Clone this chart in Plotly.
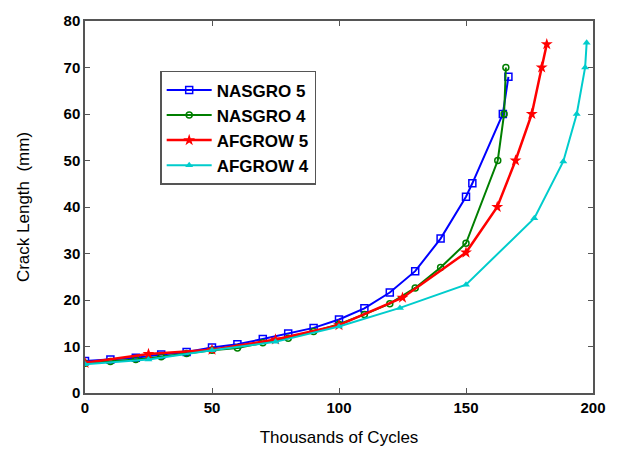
import plotly.graph_objects as go

# NASGRO 5
n5_x = [0, 10, 20, 30, 40, 50, 60, 70, 80, 90, 100, 110, 120, 130, 140, 150, 152.5, 164.5, 166.7]
n5_y = [6.9, 7.2, 7.6, 8.3, 8.8, 9.8, 10.5, 11.6, 12.8, 14.0, 15.8, 18.2, 21.6, 26.2, 33.2, 42.2, 45.1, 60.0, 68.0]
# NASGRO 4
n4_x = [0, 10, 20, 30, 40, 50, 60, 70, 80, 90, 100, 110, 120, 130, 140, 150, 162.5, 165.0, 165.7]
n4_y = [6.4, 6.8, 7.2, 7.8, 8.5, 9.2, 9.7, 10.8, 11.8, 13.2, 14.8, 16.9, 19.2, 22.6, 27.0, 32.2, 50.0, 60.0, 70.0]
# AFGROW 5
a5_x = [0, 25, 50, 75, 100, 125, 150, 162.3, 169.5, 175.9, 179.8, 181.8]
a5_y = [6.5, 8.4, 9.3, 11.5, 14.6, 20.5, 30.2, 40.0, 50.0, 60.0, 70.0, 75.0]
# AFGROW 4
a4_x = [0, 25, 50, 75, 100, 124, 150, 176.9, 188.3, 193.6, 196.9, 197.5]
a4_y = [6.2, 7.2, 9.2, 11.0, 14.3, 18.3, 23.3, 37.6, 49.8, 60.0, 70.0, 75.3]

x_ticks = [0, 50, 100, 150, 200]
y_ticks = [0, 10, 20, 30, 40, 50, 60, 70, 80]

fig = go.Figure()
fig.add_trace(go.Scatter(x=n5_x, y=n5_y, name="NASGRO 5", mode="lines+markers",
                         line=dict(color="#0000ff", width=2),
                         marker=dict(symbol="square-open", size=7, color="#0000ff", line=dict(width=1.5))))
fig.add_trace(go.Scatter(x=n4_x, y=n4_y, name="NASGRO 4", mode="lines+markers",
                         line=dict(color="#007f00", width=2),
                         marker=dict(symbol="circle-open", size=6, color="#007f00", line=dict(width=1.5))))
fig.add_trace(go.Scatter(x=a5_x, y=a5_y, name="AFGROW 5", mode="lines+markers",
                         line=dict(color="#ff0000", width=2.5),
                         marker=dict(symbol="star", size=9, color="#ff0000")))
fig.add_trace(go.Scatter(x=a4_x, y=a4_y, name="AFGROW 4", mode="lines+markers",
                         line=dict(color="#00cccc", width=2),
                         marker=dict(symbol="triangle-up", size=7, color="#00cccc")))

axis_common = dict(showgrid=False, zeroline=False, showline=True, linecolor="#555555",
                   linewidth=1.5, mirror="ticks", ticks="inside", ticklen=5,
                   tickcolor="#555555", tickwidth=1,
                   tickfont=dict(family="Liberation Sans, Arial", size=15, color="black", weight="bold"))

fig.update_layout(
    width=622, height=456,
    margin=dict(l=85, r=29, t=13, b=63),
    paper_bgcolor="white", plot_bgcolor="white",
    font=dict(family="Liberation Sans, Arial", color="black"),
    showlegend=True,
    legend=dict(x=0.148, y=0.866, xanchor="left", yanchor="top",
                bgcolor="white", bordercolor="#555555", borderwidth=1.5,
                font=dict(family="Liberation Sans, Arial", size=17, color="black", weight="bold"),
                tracegroupgap=0, itemwidth=45),
    xaxis=dict(range=[0, 200], tickvals=x_ticks,
               title=dict(text="Thousands of Cycles", font=dict(size=17), standoff=16),
               **axis_common),
    yaxis=dict(range=[0, 80], tickvals=y_ticks,
               title=dict(text="Crack Length  (mm)", font=dict(size=17), standoff=30),
               **axis_common),
)

fig.write_html("out.html")
